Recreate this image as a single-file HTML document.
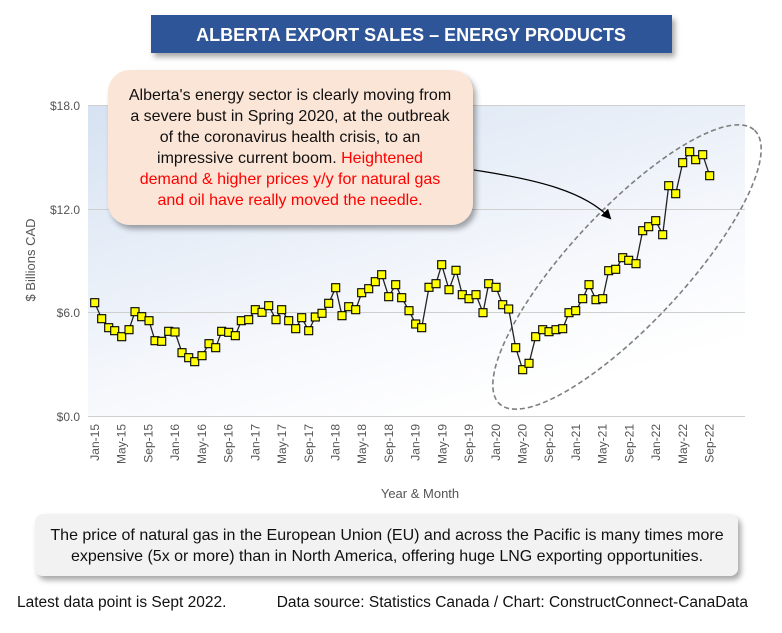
<!DOCTYPE html>
<html><head><meta charset="utf-8"><style>
body{margin:0;background:#fff;width:782px;height:628px;overflow:hidden;font-family:"Liberation Sans",sans-serif}
</style></head><body>
<svg width="782" height="628" xmlns="http://www.w3.org/2000/svg" font-family="Liberation Sans, sans-serif">
<defs>
<linearGradient id="bg" x1="0" y1="0" x2="0.6" y2="1">
<stop offset="0" stop-color="#d6e2f2"/><stop offset="0.7" stop-color="#f6f8fc"/><stop offset="1" stop-color="#ffffff"/></linearGradient>
<filter id="sh" x="-10%" y="-10%" width="130%" height="140%"><feDropShadow dx="3" dy="4" stdDeviation="3" flood-color="#000" flood-opacity="0.35"/></filter>
<marker id="ar" markerWidth="10" markerHeight="10" refX="8" refY="5" orient="auto" markerUnits="userSpaceOnUse"><path d="M0,0 L10,5 L0,10 z" fill="#000"/></marker>
</defs>
<rect x="88" y="105" width="657" height="311" fill="url(#bg)"/>
<g stroke="#cfcfcf" stroke-width="1">
<line x1="88" y1="105.5" x2="745" y2="105.5"/><line x1="88" y1="209.5" x2="745" y2="209.5"/><line x1="88" y1="312.5" x2="745" y2="312.5"/><line x1="88" y1="416.5" x2="745" y2="416.5"/>
</g>
<g font-size="12" fill="#555" text-anchor="end">
<text x="80" y="110">$18.0</text><text x="80" y="214">$12.0</text><text x="80" y="317">$6.0</text><text x="80" y="421">$0.0</text>
</g>
<text transform="translate(35,260) rotate(-90)" font-size="13" fill="#555" text-anchor="middle">$ Billions CAD</text>
<text x="420" y="498" font-size="13" fill="#555" text-anchor="middle">Year &amp; Month</text>
<g font-size="12" fill="#555" text-anchor="end">
<text transform="translate(99,424) rotate(-90)">Jan-15</text>
<text transform="translate(125.7,424) rotate(-90)">May-15</text>
<text transform="translate(152.4,424) rotate(-90)">Sep-15</text>
<text transform="translate(179.2,424) rotate(-90)">Jan-16</text>
<text transform="translate(205.9,424) rotate(-90)">May-16</text>
<text transform="translate(232.6,424) rotate(-90)">Sep-16</text>
<text transform="translate(259.3,424) rotate(-90)">Jan-17</text>
<text transform="translate(286,424) rotate(-90)">May-17</text>
<text transform="translate(312.8,424) rotate(-90)">Sep-17</text>
<text transform="translate(339.5,424) rotate(-90)">Jan-18</text>
<text transform="translate(366.2,424) rotate(-90)">May-18</text>
<text transform="translate(392.9,424) rotate(-90)">Sep-18</text>
<text transform="translate(419.6,424) rotate(-90)">Jan-19</text>
<text transform="translate(446.4,424) rotate(-90)">May-19</text>
<text transform="translate(473.1,424) rotate(-90)">Sep-19</text>
<text transform="translate(499.8,424) rotate(-90)">Jan-20</text>
<text transform="translate(526.5,424) rotate(-90)">May-20</text>
<text transform="translate(553.2,424) rotate(-90)">Sep-20</text>
<text transform="translate(580,424) rotate(-90)">Jan-21</text>
<text transform="translate(606.7,424) rotate(-90)">May-21</text>
<text transform="translate(633.4,424) rotate(-90)">Sep-21</text>
<text transform="translate(660.1,424) rotate(-90)">Jan-22</text>
<text transform="translate(686.8,424) rotate(-90)">May-22</text>
<text transform="translate(713.6,424) rotate(-90)">Sep-22</text>
</g>
<ellipse cx="627" cy="267" rx="187" ry="57" transform="rotate(-47 627 267)" fill="none" stroke="#7f7f7f" stroke-width="1.6" stroke-dasharray="5,3"/>
<polyline id="ln" fill="none" stroke="#222" stroke-width="1.3" points="94.7,302.7 101.7,318.7 108.7,327.7 114.7,330.7 121.7,336.7 129,329.7 135,311.7 141.7,316.7 149,320.7 155,340.7 161.7,341.3 168.7,331.3 175,332 182,352.7 188.7,357.7 194.7,361.7 202,355.7 209,343.7 215.7,347.7 221.7,331.3 228.7,332.3 235.3,335.7 241.3,320.7 248.7,319.7 255.3,309.7 262,312.3 268.7,305.7 276,319.7 281.7,309.7 288.7,320.7 295.7,328.7 301.7,317.7 308.7,330.7 315.3,317 322,313.3 328.7,303.3 335.7,287.7 342,315.7 348.7,306.7 355.7,309.7 361.7,292.7 368.7,288.7 375.3,281.7 381.7,274.7 388.7,296.7 395.7,284.7 401.7,297.7 409,310.7 415.7,324 421.7,327.7 429,287.3 436,283.7 441.7,264.7 449,289.7 456,270.3 462.3,294.7 469,298.7 476,294.7 483,312.7 488.7,283.7 496,287.3 502.7,304.7 508.7,309 515.7,347.7 522.7,369.7 529,363.3 535.7,336.7 542.7,329.7 549,331.7 556,329.7 562.7,328.7 569,312.7 575.7,310.7 582.7,298.7 589,284.7 596,299.7 602.7,298.7 608.7,270.7 615.7,269.3 622.7,257.7 628.7,260.3 636,263.7 642.7,230.7 648.7,226.7 655.7,220.7 662.7,234.7 668.7,185.7 675.7,193.7 682.7,162.7 689.7,151.7 695.7,159.7 702.7,154.7 709.7,175.7"/>
<g id="mk" fill="#ffff00" stroke="#000" stroke-width="1.1"></g>
<path d="M474,170 C540,180 585,192 610,218" fill="none" stroke="#000" stroke-width="1.2" marker-end="url(#ar)"/>
<rect x="108" y="70" width="365" height="155" rx="22" fill="#fbe5d6" filter="url(#sh)"/>
<g font-size="16" text-anchor="middle" fill="#111">
<text x="290" y="100">Alberta's energy sector is clearly moving from</text>
<text x="290" y="121">a severe bust in Spring 2020, at the outbreak</text>
<text x="290" y="142">of the coronavirus health crisis, to an</text>
<text x="290" y="163">impressive current boom. <tspan fill="#ff0000">Heightened</tspan></text>
<text x="290" y="184" fill="#ff0000">demand &amp; higher prices y/y for natural gas</text>
<text x="290" y="205" fill="#ff0000">and oil have really moved the needle.</text>
</g>
<rect x="151" y="15" width="521" height="38" fill="#2f5597" filter="url(#sh)"/>
<text x="411" y="41" font-size="18" font-weight="bold" fill="#fff" text-anchor="middle">ALBERTA EXPORT SALES – ENERGY PRODUCTS</text>
<rect x="35" y="514" width="703" height="62" rx="8" fill="#f2f2f2" filter="url(#sh)"/>
<text x="387" y="540" font-size="16" fill="#111" text-anchor="middle">The price of natural gas in the European Union (EU) and across the Pacific is many times more</text>
<text x="387" y="561" font-size="16" fill="#111" text-anchor="middle">expensive (5x or more) than in North America, offering huge LNG exporting opportunities.</text>
<text x="17" y="607" font-size="15.5" fill="#111">Latest data point is Sept 2022.</text>
<text x="748" y="607" font-size="15.5" fill="#111" text-anchor="end">Data source: Statistics Canada / Chart: ConstructConnect-CanaData</text>
</svg>
<script>
var pts=document.getElementById('ln').getAttribute('points').trim().split(/\s+/);
var g=document.getElementById('mk'),s='';
pts.forEach(function(p){var a=p.split(',');s+='<rect x="'+(a[0]-4)+'" y="'+(a[1]-4)+'" width="8" height="8"/>';});
g.innerHTML=s;
</script>
</body></html>
